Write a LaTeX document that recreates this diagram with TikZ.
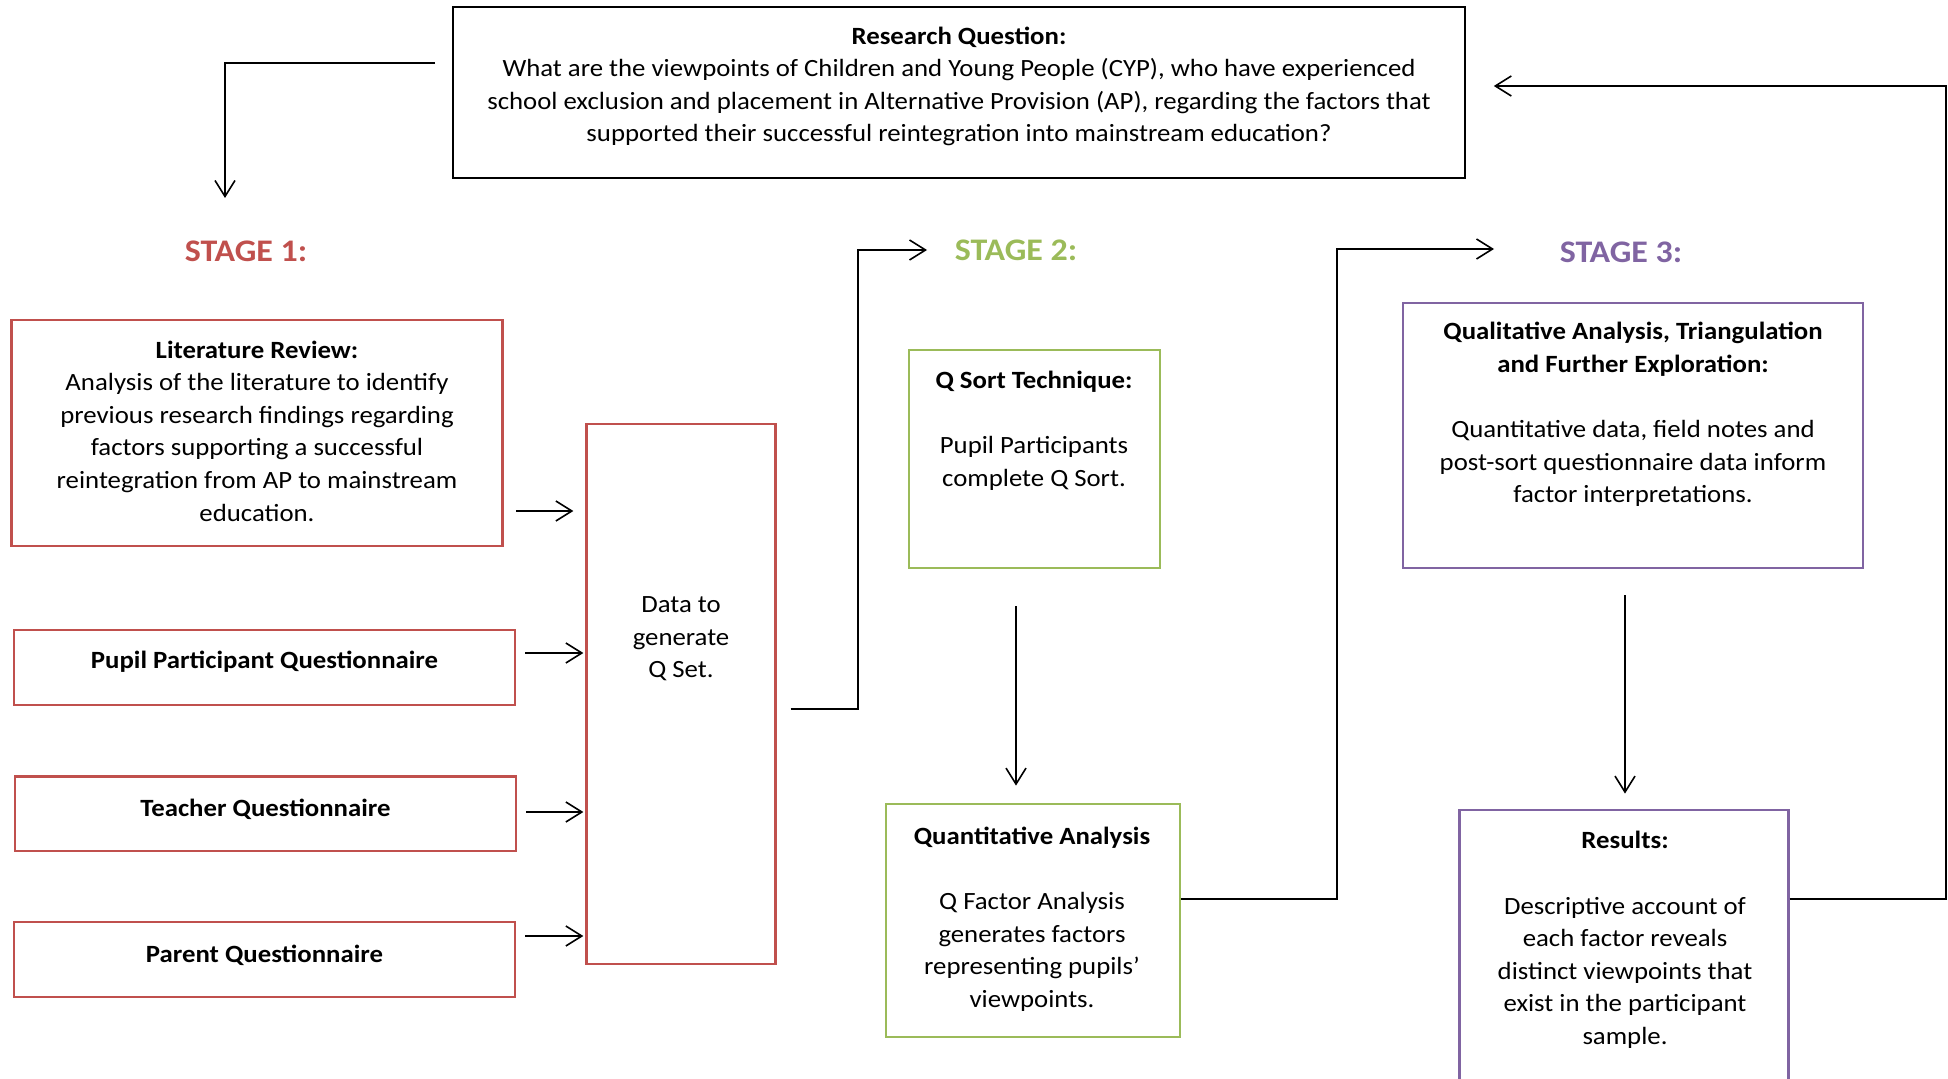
\documentclass[tikz,border=0pt]{standalone}
\usepackage{fontspec}
\setmainfont{Carlito}[FakeStretch=1.08]
\usetikzlibrary{arrows.meta}
\definecolor{stageone}{HTML}{C0504D}
\definecolor{stagetwo}{HTML}{9BBB59}
\definecolor{stagethree}{HTML}{8064A2}
\tikzset{
  plainbox/.style={draw=black, line width=0.8pt, inner sep=0pt},
  s1box/.style={draw=stageone, line width=1.4pt, inner sep=0pt},
  s2box/.style={draw=stagetwo, line width=1.4pt, inner sep=0pt},
  s3box/.style={draw=stagethree, line width=1.4pt, inner sep=0pt},
  txt/.style={align=center, font=\fontsize{12.4}{16.3}\selectfont},
  stagelbl/.style={font=\fontsize{15.7}{18}\selectfont\bfseries},
  arr/.style={line width=0.8pt, -{Straight Barb[length=8pt,width=10pt]}}
}
\begin{document}
\begin{tikzpicture}[x=0.5pt,y=-0.5pt]
  \useasboundingbox (0,0) rectangle (1948,1079);

  % Research question
  \node[plainbox, minimum width=506pt, minimum height=85.5pt] (rq) at (959,92.5) {};
  \node[txt] (rqtext) at (959,86.5) {\textbf{Research Question:}\\
    What are the viewpoints of Children and Young People (CYP), who have experienced\\
    school exclusion and placement in Alternative Provision (AP), regarding the factors that\\
    supported their successful reintegration into mainstream education?};

  % Stage labels
  \node[stagelbl, text=stageone] (st1) at (246,251) {STAGE 1:};
  \node[stagelbl, text=stagetwo] (st2) at (1016,250) {STAGE 2:};
  \node[stagelbl, text=stagethree] (st3) at (1621,252) {STAGE 3:};

  % Stage 1
  \node[s1box, minimum width=245.75pt, minimum height=113pt] (lit) at (257,433) {};
  \node[txt] (littext) at (257,431) {\textbf{Literature Review:}\\
    Analysis of the literature to identify\\
    previous research findings regarding\\
    factors supporting a successful\\
    reintegration from AP to mainstream\\
    education.};
  \node[s1box, minimum width=250.5pt, minimum height=37.5pt] (pq) at (264.5,667.5) {};
  \node[txt] (pqtext) at (264.5,662) {\textbf{Pupil Participant Questionnaire}};
  \node[s1box, minimum width=250.5pt, minimum height=37.25pt] (tq) at (265.5,813.75) {};
  \node[txt] (tqtext) at (265.5,809) {\textbf{Teacher Questionnaire}};
  \node[s1box, minimum width=250.5pt, minimum height=37.5pt] (paq) at (264.5,959.5) {};
  \node[txt] (paqtext) at (264.5,955) {\textbf{Parent Questionnaire}};
  \node[s1box, minimum width=94.25pt, minimum height=270pt] (data) at (681,694) {};
  \node[txt] (datatext) at (681,639) {Data to\\generate\\Q Set.};

  % Stage 2
  \node[s2box, minimum width=125.5pt, minimum height=109pt] (qs) at (1034.5,459) {};
  \node[txt] (qstext) at (1034,430.5) {\textbf{Q Sort Technique:}\\[16.3pt]
    Pupil Participants\\complete Q Sort.};
  \node[s2box, minimum width=147pt, minimum height=116.5pt] (qa) at (1033,920.5) {};
  \node[txt] (qatext) at (1032,919) {\textbf{Quantitative Analysis}\\[16.3pt]
    Q Factor Analysis\\generates factors\\representing pupils’\\viewpoints.};

  % Stage 3
  \node[s3box, minimum width=230pt, minimum height=132.5pt] (qual) at (1633,435.5) {};
  \node[txt] (qualtext) at (1633,414.5) {\textbf{Qualitative Analysis, Triangulation}\\
    \textbf{and Further Exploration:}\\[16.3pt]
    Quantitative data, field notes and\\
    post-sort questionnaire data inform\\
    factor interpretations.};
  \node[s3box, minimum width=164.25pt, minimum height=140pt] (res) at (1624,950) {};
  \node[txt] (restext) at (1625,940) {\textbf{Results:}\\[16.3pt]
    Descriptive account of\\each factor reveals\\distinct viewpoints that\\
    exist in the participant\\sample.};

  % Rows and turning points
  \coordinate (qstart) at (435,63);
  \coordinate (s1in) at (225,198);
  \coordinate (s2in) at (927,250);
  \coordinate (s3in) at (1494,249);
  \coordinate (r1) at (0,511);
  \coordinate (r2) at (0,653);
  \coordinate (r3) at (0,812);
  \coordinate (r4) at (0,936);
  \coordinate (r5) at (0,709);
  \coordinate (r6) at (0,899);
  \coordinate (r7) at (0,86);
  \coordinate (c1) at (1016,0);
  \coordinate (c2) at (1625,0);

  % Connectors
  \draw[arr] (qstart) -| (s1in);
  \draw[arr, shorten <=6pt, shorten >=6pt] (lit.east |- r1) -- (data.west |- r1);
  \foreach \n/\r in {pq/r2,tq/r3,paq/r4}
    \draw[arr, shorten <=4.5pt, shorten >=1pt] (\n.east |- \r) -- (data.west |- \r);
  \draw[arr, shorten <=7pt] (data.east |- r5) -- (858,709) |- (s2in);
  \draw[arr, shorten <=18.5pt, shorten >=8.5pt] (qs.south -| c1) -- (qa.north -| c1);
  \draw[arr] (qa.east |- r6) -- (1337,899) |- (s3in);
  \draw[arr, shorten <=13pt, shorten >=7.5pt] (qual.south -| c2) -- (res.north -| c2);
  \draw[arr, shorten >=14pt] (res.east |- r6) -- (1946,899) |- (rq.east |- r7);
\end{tikzpicture}
\end{document}
